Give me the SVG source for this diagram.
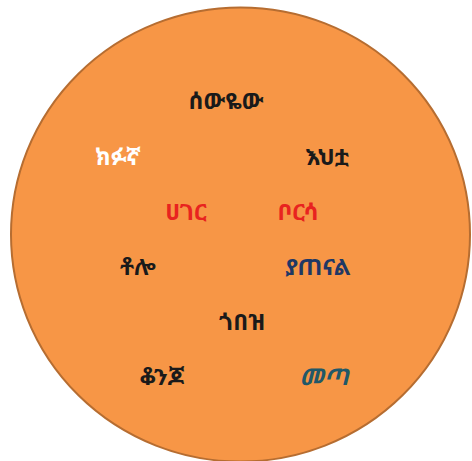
<svg xmlns="http://www.w3.org/2000/svg" width="472" height="461" viewBox="0 0 472 461">
<style>
text{font-family:"Noto Sans Ethiopic","Abyssinica SIL","DejaVu Sans","Noto Sans",sans-serif;font-size:23px;font-weight:bold;text-anchor:middle}
.k{fill:#1a1a1a}.w{fill:#ffffff}.r{fill:#e8231f}.b{fill:#1f3864}.t{fill:#215868;font-style:italic}
</style>
<rect width="472" height="461" fill="#ffffff"/>
<g id="circle"><ellipse cx="240.5" cy="234.5" rx="229.5" ry="227" fill="#f79646" stroke="#b66d31" stroke-width="2"/></g>
<g id="connectors"/>
<g id="n1"><text class="k" x="226" y="109">ሰውዬው</text></g>
<g id="n2"><text class="w" x="118" y="165">ክፉኛ</text></g>
<g id="n3"><text class="k" x="327" y="165">እህቷ</text></g>
<g id="n4"><text class="r" x="186" y="220">ሀገር</text></g>
<g id="n5"><text class="r" x="298" y="220">ቦርሳ</text></g>
<g id="n6"><text class="k" x="138" y="275">ቶሎ</text></g>
<g id="n7"><text class="b" x="318" y="275">ያጠናል</text></g>
<g id="n8"><text class="k" x="242" y="330">ጎበዝ</text></g>
<g id="n9"><text class="k" x="162" y="385">ቆንጆ</text></g>
<g id="n10"><text class="t" x="324" y="385">መጣ</text></g>
</svg>
